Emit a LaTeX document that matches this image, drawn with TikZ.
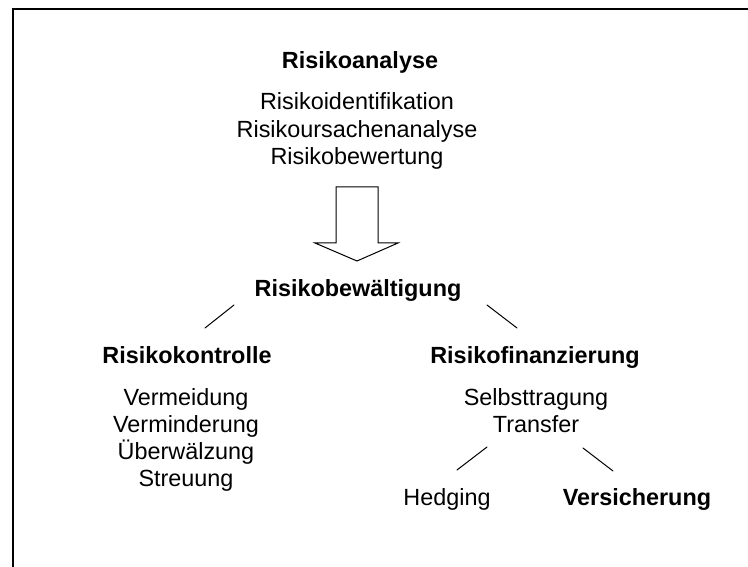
\documentclass[tikz,border=0pt]{standalone}
\usepackage{fontspec}
\setmainfont{Liberation Sans}
\begin{document}
\begin{tikzpicture}[x=1pt,y=-1pt,
  txt/.style={anchor=base,inner sep=0pt,font=\fontsize{23.4pt}{27pt}\selectfont},
  head/.style={txt,font=\fontsize{23.4pt}{27pt}\selectfont\bfseries},
  link/.style={line width=1pt,line cap=round},
  frame/.style={line width=2.6pt},
  bigarrow/.style={line width=1pt,line join=miter,fill=white}]
  \useasboundingbox (0,0) rectangle (748,567);
  \clip (0,0) rectangle (748,567);
  % outer frame, running off the right and lower edges
  \draw[frame] (13,600) -- (13,9) -- (800,9);

  % analysis stage
  \node[head] (ana) at (360,69) {Risikoanalyse};
  \node[txt] (ana1) at (357,110) {Risikoidentifikation};
  \node[txt] (ana2) at (357,137.5) {Risikoursachenanalyse};
  \node[txt] (ana3) at (357,165) {Risikobewertung};

  % hollow block arrow down to the handling stage
  \draw[bigarrow] (336,187) -- (378,187) -- (378,243) -- (398,243) -- (357,261)
    -- (315,243) -- (336,243) -- cycle;

  % handling stage
  \node[head] (bew) at (358,297) {Risikobewältigung};
  \node[head] (kon) at (187,363) {Risikokontrolle};
  \node[head] (fin) at (535,363) {Risikofinanzierung};

  \node[txt] (kon1) at (186,405) {Vermeidung};
  \node[txt] (kon2) at (186,432) {Verminderung};
  \node[txt] (kon3) at (186,459) {Überwälzung};
  \node[txt] (kon4) at (186,486) {Streuung};

  \node[txt] (fin1) at (536,405) {Selbsttragung};
  \node[txt] (fin2) at (536,432) {Transfer};

  \node[txt] (hed) at (447,505) {Hedging};
  \node[head] (ver) at (637,505) {Versicherung};

  % branch lines
  \coordinate (b1a) at (234,305);
  \coordinate (b1b) at (205,328);
  \coordinate (b2a) at (487,305);
  \coordinate (b2b) at (517,328);
  \coordinate (t1a) at (487,447);
  \coordinate (t1b) at (457,470);
  \coordinate (t2a) at (583,448);
  \coordinate (t2b) at (613,471);
  \draw[link] (b1a) -- (b1b);
  \draw[link] (b2a) -- (b2b);
  \draw[link] (t1a) -- (t1b);
  \draw[link] (t2a) -- (t2b);
\end{tikzpicture}
\end{document}
